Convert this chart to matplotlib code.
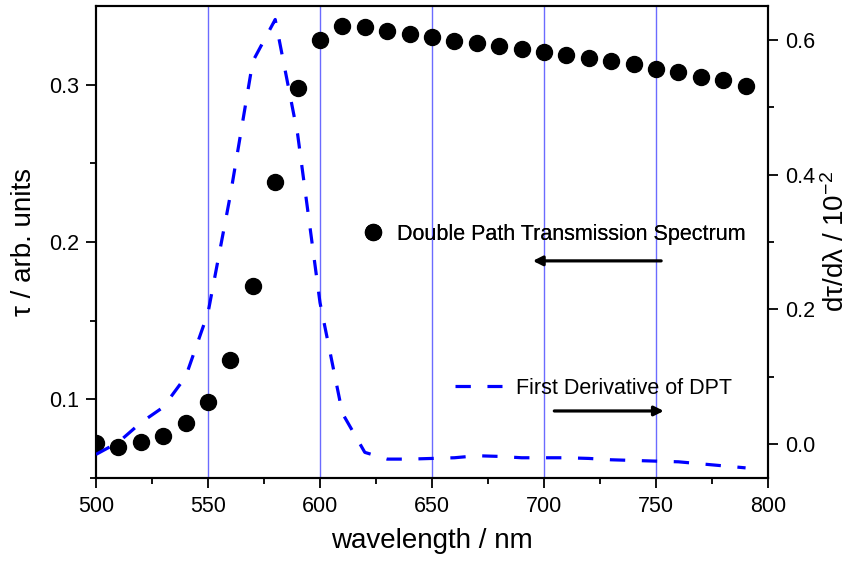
import numpy as np
import matplotlib
matplotlib.use('Agg')
import matplotlib.pyplot as plt
from matplotlib.lines import Line2D

plt.rcParams['font.family'] = ['Liberation Sans', 'DejaVu Sans']
plt.rcParams['mathtext.fontset'] = 'custom'
plt.rcParams['mathtext.rm'] = 'Liberation Sans'
plt.rcParams['mathtext.it'] = 'Liberation Sans:italic'
plt.rcParams['axes.unicode_minus'] = False

# Datos: espectro de transmision (eje izquierdo) y su derivada (eje derecho)
longitud_onda = np.arange(500, 800, 10)
tau = [0.072, 0.070, 0.0727, 0.077, 0.085, 0.098, 0.125, 0.172, 0.238, 0.298,
       0.3286, 0.337, 0.3364, 0.334, 0.332, 0.3305, 0.328, 0.3262, 0.3248, 0.3227,
       0.321, 0.319, 0.317, 0.3152, 0.3131, 0.310, 0.3083, 0.305, 0.3032, 0.2994]
derivada = [-0.015, 0.003, 0.032, 0.055, 0.100, 0.195, 0.37, 0.568, 0.63, 0.46,
            0.21, 0.046, -0.012, -0.022, -0.022, -0.021, -0.020, -0.017, -0.018, -0.020,
            -0.020, -0.020, -0.021, -0.023, -0.024, -0.025, -0.026, -0.029, -0.032, -0.035]
lineas_guia = [550, 600, 650, 700, 750]

fig = plt.figure(figsize=(8.52, 5.66), dpi=100)
ax = fig.add_axes([0.1127, 0.1555, 0.7887, 0.8339])
ax2 = ax.twinx()

for xv in lineas_guia:
    ax.axvline(xv, color='#6b6bff', lw=1.0, zorder=0)

ax.plot(longitud_onda, tau, 'o', color='black', markersize=11.5, zorder=3)
ax2.plot(longitud_onda, derivada, color='#0000ff', lw=2.3, dashes=(4.8, 5.2), zorder=3)

ax.set_xticks(np.arange(500, 801, 50))
ax.set_xticks(np.arange(525, 800, 50), minor=True)
ax.set_yticks([0.1, 0.2, 0.3])
ax.set_yticks([0.05, 0.15, 0.25], minor=True)
ax2.set_yticks([0.0, 0.2, 0.4, 0.6])
ax2.set_yticks([0.1, 0.3, 0.5], minor=True)
ax.set_yticklabels(['0.1', '0.2', '0.3'])
ax2.set_yticklabels(['0.0', '0.2', '0.4', '0.6'])

ax.set_xlim(500, 800)
ax.set_ylim(0.05, 0.35)
ax2.set_ylim(-0.05, 0.65)

for a in (ax, ax2):
    for s in a.spines.values():
        s.set_linewidth(1.5)
    a.tick_params(which='major', length=7, width=1.3, labelsize=15.5, direction='out')
    a.tick_params(which='minor', length=4, width=1.3, direction='out')
ax.tick_params(axis='x', pad=6)
ax.tick_params(axis='y', pad=5)
ax2.tick_params(axis='y', pad=5)

ax.set_xlabel('wavelength / nm', fontsize=20, labelpad=8)
ax.set_ylabel('\u03c4 / arb. units', fontsize=20, labelpad=9)
ax2.set_ylabel('d\u03c4/d\u03bb / 10$^{-2}$', fontsize=20, labelpad=5)

# Leyendas manuales
h1 = Line2D([], [], marker='o', color='black', linestyle='none', markersize=11.5)
h2 = Line2D([], [], color='#0000ff', lw=2.3, dashes=(4.8, 5.2))
leg1 = fig.legend([h1], ['Double Path Transmission Spectrum'], loc='center left',
                  bbox_to_anchor=(363 / 852, 1 - 234 / 566), frameon=False,
                  fontsize=15.5, handlelength=0.95, handletextpad=0.65,
                  borderpad=0, borderaxespad=0)
leg2 = fig.legend([h2], ['First Derivative of DPT'], loc='center left',
                  bbox_to_anchor=(455 / 852, 1 - 388 / 566), frameon=False,
                  fontsize=15.5, handlelength=2.2, handletextpad=0.65,
                  borderpad=0, borderaxespad=0)
fig.add_artist(leg1)

flecha = dict(arrowstyle='-|>', lw=2.3, color='black', mutation_scale=14,
              shrinkA=0, shrinkB=0)
ax.annotate('', xy=(0.650, 0.46), xytext=(0.841, 0.46), xycoords='axes fraction',
            arrowprops=flecha)
ax.annotate('', xy=(0.845, 0.142), xytext=(0.682, 0.142), xycoords='axes fraction',
            arrowprops=flecha)

plt.savefig('out.png', dpi=100)
